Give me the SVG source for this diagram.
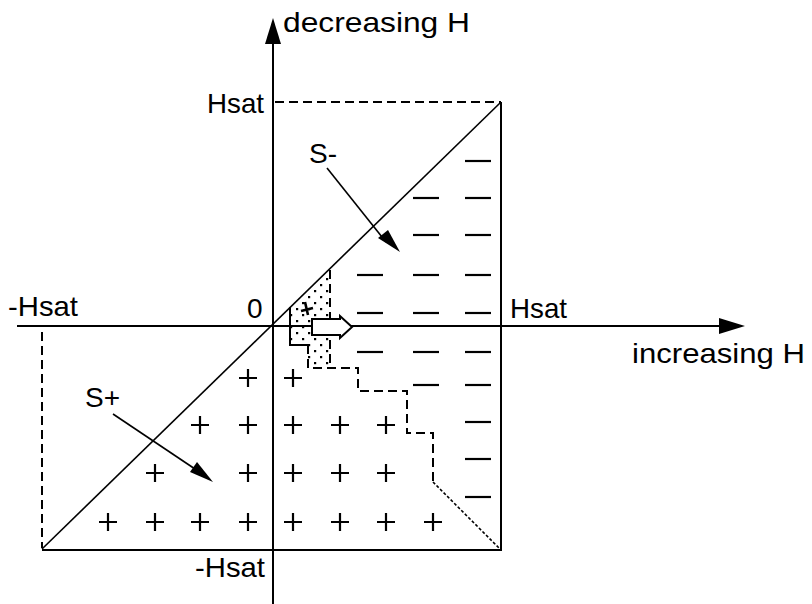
<svg xmlns="http://www.w3.org/2000/svg" width="812" height="604" viewBox="0 0 812 604">
<defs>
<style>
.t{font-family:"Liberation Sans",Arial,sans-serif;font-size:28px;fill:#000}
.ax{stroke:#000;stroke-width:2;fill:none}
.dash{stroke:#000;stroke-width:2;fill:none;stroke-dasharray:9 5}
.thin{stroke:#000;stroke-width:1.6;fill:none}
.pm{stroke:#000;stroke-width:2.2;fill:none}
</style>
<pattern id="stip" width="12" height="12" patternUnits="userSpaceOnUse">
<rect x="2" y="2" width="2.2" height="2.2" fill="#000"/>
<rect x="8" y="8" width="2.2" height="2.2" fill="#000"/>
</pattern>
<g id="plus"><path d="M-9,0H9M0,-9V9"/></g>
<g id="minus"><path d="M-13,0H13"/></g>
</defs>
<rect width="812" height="604" fill="#fff"/>

<g id="connectors">
<!-- axes -->
<path class="ax" d="M273,40V604"/>
<polygon points="273,18 281,44 265,44" fill="#000"/>
<path class="ax" d="M17,326H722"/>
<polygon points="745,326 719,318 719,334" fill="#000"/>
<!-- square -->
<path class="dash" d="M275,102H501"/>
<path class="ax" d="M501,102V550H42"/>
<path class="dash" d="M42,332V548"/>
<path class="thin" d="M42,549L500,103"/>
<!-- shaded region -->
<polygon points="290,307 330,268 330,368 308,368 308,345 290,345" fill="url(#stip)"/>
<path class="ax" d="M290,307V345H308"/>
<path class="dash" d="M330,270V368"/>
<path class="dash" d="M308,345V368H358V391H407V433H433V482"/>
<path class="thin" d="M433,482L500,549" stroke-dasharray="3 2"/>
<path d="M301,311l12,-3M305,302l3,13" stroke="#000" stroke-width="2.6"/>
<!-- block arrow -->
<polygon points="312,319 340,319 340,316 352,327 340,338 340,335 312,335" fill="#fff" stroke="#000" stroke-width="2"/>
<!-- S- arrow -->
<path class="thin" d="M327,168L386,242"/>
<polygon points="400,252 378,238 388,230" fill="#000"/>
<!-- S+ arrow -->
<path class="thin" d="M113,414L198,471"/>
<polygon points="213,482 190,472 197,462" fill="#000"/>
</g>

<g id="plus-signs" class="pm">
<use href="#plus" x="248" y="378"/><use href="#plus" x="293" y="378"/>
<use href="#plus" x="200" y="425"/><use href="#plus" x="248" y="425"/><use href="#plus" x="293" y="425"/><use href="#plus" x="340" y="425"/><use href="#plus" x="386" y="425"/>
<use href="#plus" x="155" y="473"/><use href="#plus" x="248" y="473"/><use href="#plus" x="293" y="473"/><use href="#plus" x="340" y="473"/><use href="#plus" x="386" y="473"/>
<use href="#plus" x="108" y="522"/><use href="#plus" x="155" y="522"/><use href="#plus" x="200" y="522"/><use href="#plus" x="248" y="522"/><use href="#plus" x="293" y="522"/><use href="#plus" x="340" y="522"/><use href="#plus" x="386" y="522"/><use href="#plus" x="433" y="522"/>
</g>

<g id="minus-signs" class="pm">
<use href="#minus" x="478" y="161"/>
<use href="#minus" x="426" y="198"/><use href="#minus" x="478" y="198"/>
<use href="#minus" x="426" y="235"/><use href="#minus" x="478" y="235"/>
<use href="#minus" x="370" y="275"/><use href="#minus" x="426" y="275"/><use href="#minus" x="478" y="275"/>
<use href="#minus" x="370" y="313"/><use href="#minus" x="426" y="313"/><use href="#minus" x="478" y="313"/>
<use href="#minus" x="370" y="352"/><use href="#minus" x="426" y="352"/><use href="#minus" x="478" y="352"/>
<use href="#minus" x="426" y="385"/><use href="#minus" x="478" y="385"/>
<use href="#minus" x="478" y="422"/>
<use href="#minus" x="478" y="459"/>
<use href="#minus" x="478" y="497"/>
</g>

<g id="labels">
<text class="t" x="283" y="32" textLength="187" lengthAdjust="spacingAndGlyphs">decreasing H</text>
<text class="t" x="207" y="113" textLength="57" lengthAdjust="spacingAndGlyphs">Hsat</text>
<text class="t" x="8" y="316" textLength="70" lengthAdjust="spacingAndGlyphs">-Hsat</text>
<text class="t" x="247" y="318">0</text>
<text class="t" x="510" y="318" textLength="57" lengthAdjust="spacingAndGlyphs">Hsat</text>
<text class="t" x="632" y="363" textLength="173" lengthAdjust="spacingAndGlyphs">increasing H</text>
<text class="t" x="195" y="577" textLength="70" lengthAdjust="spacingAndGlyphs">-Hsat</text>
<text class="t" x="309" y="163">S-</text>
<text class="t" x="85" y="407">S+</text>
</g>
</svg>
